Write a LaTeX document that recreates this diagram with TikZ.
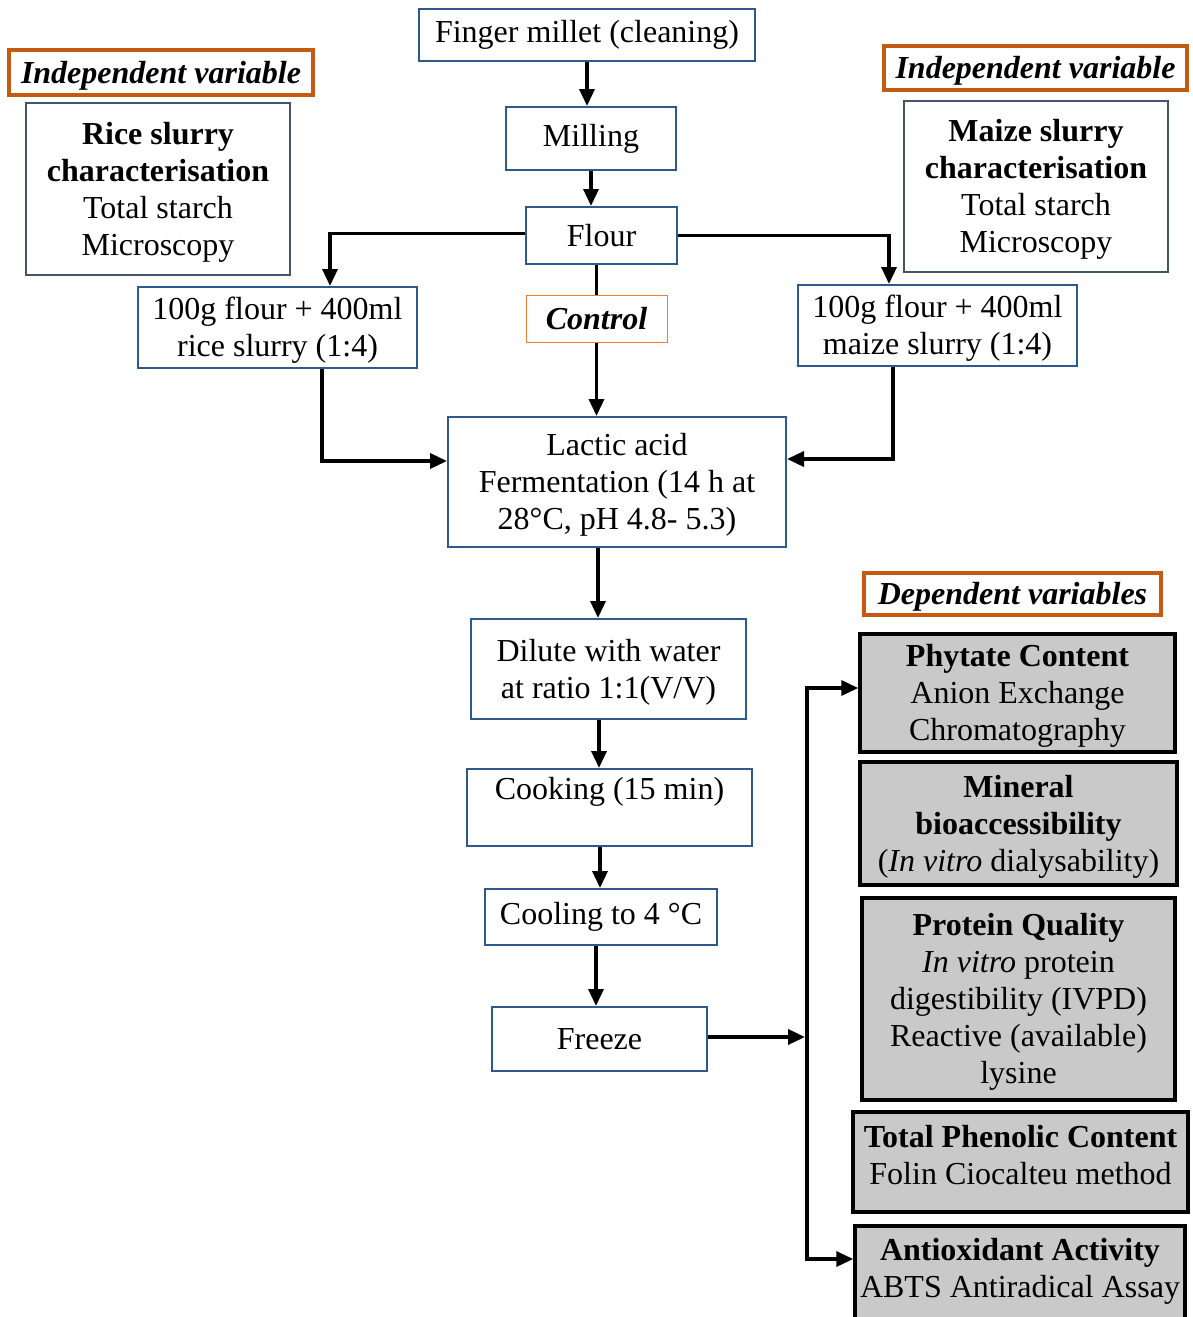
\documentclass[tikz,border=0pt]{standalone}
\usepackage{fontspec}
\setmainfont{Liberation Serif}
\usetikzlibrary{arrows.meta}
\definecolor{boxblue}{RGB}{46,89,140}
\definecolor{slate}{RGB}{68,84,106}
\definecolor{orng}{RGB}{197,90,17}
\definecolor{lorng}{RGB}{237,125,49}
\definecolor{dgray}{RGB}{201,201,201}
\begin{document}
\begin{tikzpicture}[x=1pt,y=-1pt,
  every node/.style={font=\fontsize{32}{37}\selectfont, inner sep=0pt, align=center},
  proc/.style={draw=boxblue, line width=2pt, fill=white},
  charbox/.style={draw=slate, line width=2pt, fill=white},
  varlabel/.style={draw=orng, line width=3.5pt, fill=white, text height=28.5pt, text depth=7pt, font=\fontsize{32}{37}\selectfont\bfseries\itshape},
  ctrlbox/.style={draw=lorng, line width=1pt, fill=white, font=\fontsize{32}{37}\selectfont\bfseries\itshape},
  depbox/.style={draw=black, line width=3.5pt, fill=dgray},
  twolines/.style={text height=65.5pt, text depth=7pt},
  threelines/.style={text height=102.5pt, text depth=7pt},
  fourlines/.style={text height=139.5pt, text depth=7pt},
  fivelines/.style={text height=176.5pt, text depth=7pt},
  conn/.style={line width=3.5pt, -{Triangle[length=17pt,width=15pt]}},
  biconn/.style={line width=3.5pt, line join=miter, {Triangle[length=17pt,width=15pt]}-{Triangle[length=17pt,width=15pt]}},
  plainln/.style={line width=3.5pt}
]
\useasboundingbox (0,0) rectangle (1193,1317);
\clip (0,0) rectangle (1193,1317);

% main process chain
\node[proc, minimum width=336pt, minimum height=52pt] (fm) at (587,35) {Finger millet (cleaning)};
\node[proc, minimum width=170pt, minimum height=63pt] (mill) at (591,138.5) {Milling};
\node[proc, minimum width=151pt, minimum height=57pt] (flour) at (601.5,235.5) {Flour};
\node[ctrlbox, minimum width=141pt, minimum height=47pt] (ctrl) at (596.5,318.5) {Control};
\node[proc, twolines, minimum width=279pt, minimum height=81pt] (rice) at (277.5,327.5) {100g flour + 400ml\\rice slurry (1:4)};
\node[proc, twolines, minimum width=279pt, minimum height=81pt] (maize) at (937.5,325.5) {100g flour + 400ml\\maize slurry (1:4)};
\node[proc, threelines, minimum width=338pt, minimum height=130pt] (lactic) at (617,482) {Lactic acid\\Fermentation (14 h at\\28°C, pH 4.8- 5.3)};
\node[proc, twolines, minimum width=275pt, minimum height=100pt] (dilute) at (608.5,669) {Dilute with water\\at ratio 1:1(V/V)};
\node[proc, minimum width=285pt, minimum height=77pt] (cook) at (609.5,807.5) {};
\node (cookT) at (609.5,792) {Cooking (15 min)};
\node[proc, minimum width=232pt, minimum height=56pt] (cool) at (601,917) {Cooling to 4 °C};
\node[proc, minimum width=215pt, minimum height=64pt] (freeze) at (599.5,1039) {Freeze};

% independent variables
\node[varlabel, minimum width=304pt, minimum height=45pt] (ivl) at (161,72.5) {Independent variable};
\node[charbox, fourlines, minimum width=264pt, minimum height=172pt] (ricechar) at (158,189) {\textbf{Rice slurry}\\\textbf{characterisation}\\Total starch\\Microscopy};
\node[varlabel, minimum width=303pt, minimum height=44pt] (ivr) at (1035.5,68) {Independent variable};
\node[charbox, fourlines, minimum width=264pt, minimum height=171pt] (maizechar) at (1036,186.5) {\textbf{Maize slurry}\\\textbf{characterisation}\\Total starch\\Microscopy};

% dependent variables
\node[varlabel, minimum width=297pt, minimum height=42pt] (dv) at (1012.5,594) {Dependent variables};
\node[depbox, threelines, minimum width=315pt, minimum height=118pt] (phyt) at (1017.5,693) {\textbf{Phytate Content}\\Anion Exchange\\Chromatography};
\node[depbox, threelines, minimum width=317pt, minimum height=123pt] (mineral) at (1018.5,823.5) {\textbf{Mineral}\\\textbf{bioaccessibility}\\(\textit{In vitro} dialysability)};
\node[depbox, fivelines, minimum width=313pt, minimum height=202pt] (prot) at (1018.5,999) {\textbf{Protein Quality}\\\textit{In vitro} protein\\digestibility (IVPD)\\Reactive (available)\\lysine};
\node[depbox, minimum width=335pt, minimum height=100pt] (phen) at (1020.5,1162) {};
\node (phenT) at (1020.5,1155) {\textbf{Total Phenolic Content}\\Folin Ciocalteu method};
\node[depbox, minimum width=330pt, minimum height=98pt] (anti) at (1020,1275) {};
\node (antiT) at (1020,1271) {\textbf{Antioxidant Activity}\\ABTS Antiradical Assay};

% connectors
\draw[conn] (fm.south) -- (fm.south |- mill.north);
\draw[conn] (mill.south) -- (mill.south |- flour.north);
\draw[conn] ([yshift=2pt]flour.west) -| ([xshift=52.5pt]rice.north);
\draw[conn] (flour.east) -| ([xshift=-48.5pt]maize.north);
\draw[plainln] (ctrl.north |- flour.south) -- (ctrl.north);
\draw[conn] (ctrl.south) -- (ctrl.south |- lactic.north);
\draw[conn] ([xshift=44.5pt]rice.south) |- ([yshift=21pt]lactic.west);
\draw[conn] ([xshift=-44.5pt]maize.south) |- ([yshift=23pt]lactic.east);
\draw[conn] ([xshift=-19pt]lactic.south) -- ([xshift=-19pt]lactic.south |- dilute.north);
\draw[conn] ([xshift=-9.5pt]dilute.south) -- ([xshift=-9.5pt]dilute.south |- cook.north);
\draw[conn] ([xshift=-9.5pt]cook.south) -- ([xshift=-9.5pt]cook.south |- cool.north);
\draw[conn] ([xshift=-5pt]cool.south) -- ([xshift=-5pt]cool.south |- freeze.north);
\coordinate (busTop) at (807,688);
\coordinate (busBot) at (807,1259);
\coordinate (busMid) at (805,1037);
\draw[conn] ([yshift=2pt]freeze.east) -- (busMid);
\draw[biconn] (busTop -| phyt.west) -- (busTop) -- (busBot) -- (busBot -| anti.west);
\end{tikzpicture}
\end{document}
